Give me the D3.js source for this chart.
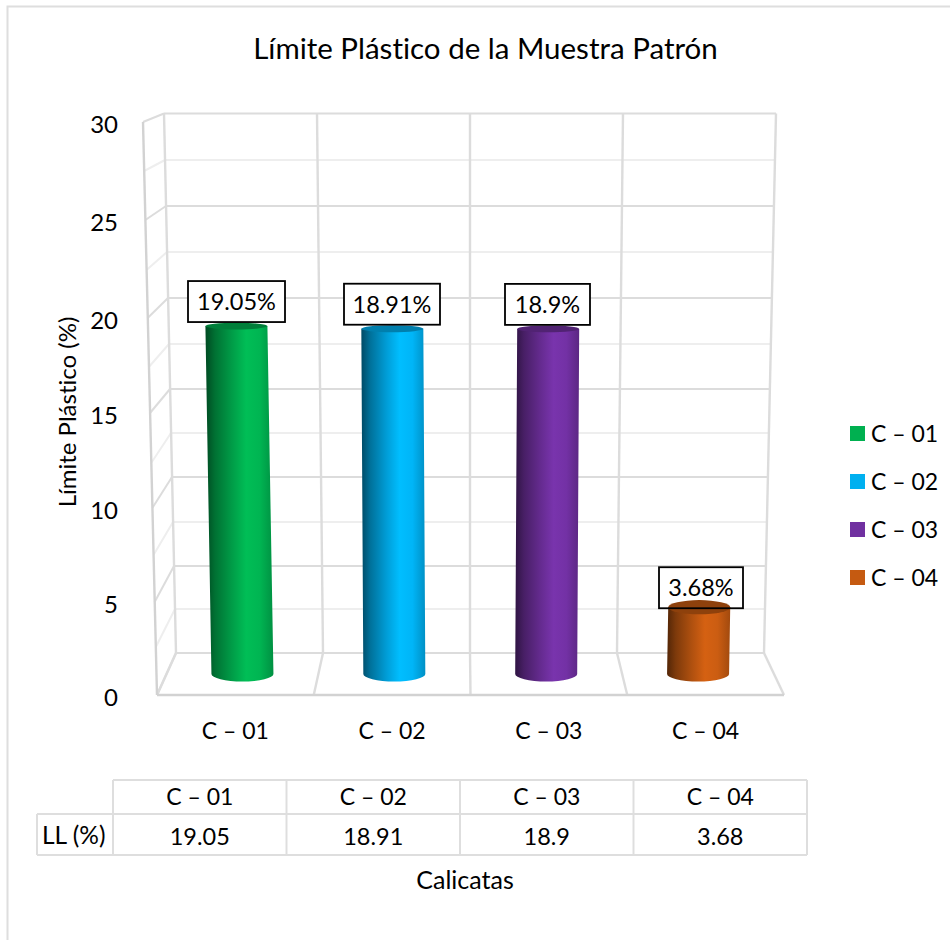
<!DOCTYPE html>
<html lang="es">
<head>
<meta charset="utf-8">
<title>Límite Plástico de la Muestra Patrón</title>
<script src="https://cdn.jsdelivr.net/npm/d3@7/dist/d3.min.js"></script>
<style>
html,body{margin:0;padding:0;background:#fff;overflow:hidden}
svg{display:block}
text{font-family:Lato,"Noto Sans",sans-serif;fill:#000;font-variant-ligatures:none}
</style>
</head>
<body>
<svg id="chart" width="950" height="940"></svg>
<script>
// Chart content
const chartTitle = "Límite Plástico de la Muestra Patrón";
const yTitle = "Límite Plástico (%)";
const xTitle = "Calicatas";
const rowLabel = "LL (%)";
const categories = ["C – 01", "C – 02", "C – 03", "C – 04"];
const values = [19.05, 18.91, 18.9, 3.68];
const valueLabels = ["19.05%", "18.91%", "18.9%", "3.68%"];
const tableLabels = ["19.05", "18.91", "18.9", "3.68"];
const barColors = ["#00b050", "#00b0f0", "#7030a0", "#c55a11"];

// Gridline levels of the box; the walls recede in perspective, so each plane has its own scale
const levels = [0, 2.5, 5, 7.5, 10, 12.5, 15, 17.5, 20, 22.5, 25, 27.5, 30];
const yBack = d3.scaleLinear().domain(levels)
  .range([653, 609, 566, 522, 477, 433, 389, 344, 298, 252, 206, 160, 113.5]);
const yFront = d3.scaleLinear().domain(levels)
  .range([695, 647, 602, 555, 508, 463, 413, 367, 318, 270, 220, 171, 122]);
const yMid = v => (yBack(v) + yFront(v)) / 2;

const xFrontEdge = d3.scaleLinear().domain([0, 30]).range([157, 143]);
const xBackLeft = d3.scaleLinear().domain([0, 30]).range([176, 164]);
const xBackRight = d3.scaleLinear().domain([0, 30]).range([764, 776]);

const xFloorFront = d3.scaleBand().domain(categories).range([157, 784]);
const xFloorMid = d3.scaleBand().domain(categories).range([166.5, 774]);
const xTable = d3.scaleBand().domain(categories).range([113, 807]);
const CENTER_X = 470;
const SPREAD = 0.00139;
const barX = (c, v) => {
  const base = xFloorMid(c) + xFloorMid.bandwidth() / 2;
  return base + (base - CENTER_X) * SPREAD * v;
};

const svg = d3.select("#chart");
const defs = svg.append("defs");

const GRID_MAJOR = "#dcdcdc", GRID_MINOR = "#eeeeee", EDGE = "#d2d2d2";
const isMajor = v => v % 5 === 0;

// Outer frame of the chart area, running off the page at right and bottom
svg.append("rect").attr("x", 7.5).attr("y", 6.5).attr("width", 1000).attr("height", 1000)
  .attr("fill", "none").attr("stroke", "#dedede").attr("stroke-width", 2);

// Back wall and side wall gridlines
const grid = svg.append("g").attr("fill", "none");
grid.selectAll(".back").data(levels).join("line").attr("class", "back")
  .attr("x1", v => xBackLeft(v)).attr("x2", v => xBackRight(v))
  .attr("y1", v => yBack(v)).attr("y2", v => yBack(v))
  .attr("stroke", v => isMajor(v) ? GRID_MAJOR : GRID_MINOR).attr("stroke-width", 2);
grid.selectAll(".side").data(levels).join("line").attr("class", "side")
  .attr("x1", v => xFrontEdge(v)).attr("x2", v => xBackLeft(v))
  .attr("y1", v => yFront(v)).attr("y2", v => yBack(v))
  .attr("stroke", v => isMajor(v) ? GRID_MAJOR : GRID_MINOR).attr("stroke-width", 2);

// Category dividers on the back wall and across the floor
const dividers = [0, 1, 2, 3, 4];
const backTopX = d3.scaleLinear().domain([0, 4]).range([164, 776]);
const backBottomX = d3.scaleLinear().domain([0, 4]).range([176, 764]);
const floorFrontX = d3.scaleLinear().domain([0, 4]).range([157, 784]);
grid.selectAll(".wall").data(dividers).join("line").attr("class", "wall")
  .attr("x1", i => backTopX(i)).attr("x2", i => backBottomX(i))
  .attr("y1", yBack(30)).attr("y2", yBack(0))
  .attr("stroke", GRID_MAJOR).attr("stroke-width", 2.4);
grid.selectAll(".floor").data(dividers).join("line").attr("class", "floor")
  .attr("x1", i => backBottomX(i)).attr("x2", i => floorFrontX(i))
  .attr("y1", yBack(0)).attr("y2", yFront(0))
  .attr("stroke", GRID_MAJOR).attr("stroke-width", 2.4);
grid.append("line").attr("x1", xFrontEdge(30)).attr("x2", xFrontEdge(0))
  .attr("y1", yFront(30)).attr("y2", yFront(0))
  .attr("stroke", EDGE).attr("stroke-width", 2.4);
grid.append("line").attr("x1", floorFrontX(0)).attr("x2", floorFrontX(4))
  .attr("y1", yFront(0)).attr("y2", yFront(0))
  .attr("stroke", EDGE).attr("stroke-width", 2.6);

// Cylinder shading: dark left edge, highlight right of centre
barColors.forEach((col, i) => {
  const g = defs.append("linearGradient").attr("id", "shade" + i)
    .attr("x1", 0).attr("x2", 1).attr("y1", 0).attr("y2", 0);
  const base = d3.color(col);
  [[0, 0.42], [0.14, 0.64], [0.4, 0.9], [0.6, 1.08], [0.8, 1.03], [1, 0.82]].forEach(([o, k]) => {
    g.append("stop").attr("offset", o)
      .attr("stop-color", d3.rgb(base.r * k, base.g * k, base.b * k).formatHex());
  });
});

// Label box backgrounds sit behind the cylinders; borders and text sit in front
const BOX_H = 41;
const boxWidths = [97, 96, 85, 84];
const boxCenters = [236.5, 392, 547.5, 701];
const boxTop = v => yMid(v) - 4 - BOX_H + (v < 10 ? 5 : 0);
const labelData = categories.map((c, i) => ({c, i, v: values[i], w: boxWidths[i], cx: boxCenters[i], t: valueLabels[i]}));

svg.append("g").selectAll("rect").data(labelData).join("rect")
  .attr("x", d => d.cx - d.w / 2).attr("y", d => boxTop(d.v))
  .attr("width", d => d.w).attr("height", BOX_H).attr("fill", "#fff");

// Cylinders
const R = 31, RY_BASE = 7.5;
const topRy = v => 3.2 + 4.8 * (1 - v / 20);
const bars = svg.append("g").selectAll("g").data(labelData).join("g");
bars.append("path")
  .attr("fill", d => `url(#shade${d.i})`)
  .attr("d", d => {
    const xT = barX(d.c, d.v), xB = barX(d.c, 0);
    const yT = yMid(d.v), yB = yMid(0);
    return `M${xT - R},${yT}L${xB - R},${yB}A${R},${RY_BASE} 0 0 0 ${xB + R},${yB}L${xT + R},${yT}Z`;
  });
bars.append("ellipse")
  .attr("cx", d => barX(d.c, d.v)).attr("cy", d => yMid(d.v))
  .attr("rx", R).attr("ry", d => topRy(d.v))
  .attr("fill", d => {
    const c = d3.color(barColors[d.i]);
    return d3.rgb(c.r * 0.72, c.g * 0.72, c.b * 0.72).formatHex();
  });

svg.append("g").selectAll("rect").data(labelData).join("rect")
  .attr("x", d => d.cx - d.w / 2).attr("y", d => boxTop(d.v))
  .attr("width", d => d.w).attr("height", BOX_H)
  .attr("fill", "none").attr("stroke", "#000").attr("stroke-width", 1.8);
svg.append("g").selectAll("text").data(labelData).join("text")
  .attr("x", d => d.cx).attr("y", d => boxTop(d.v) + BOX_H / 2 + 8.5)
  .attr("text-anchor", "middle").attr("font-size", 23.5).text(d => d.t);

// Title
svg.append("text").attr("x", 485.5).attr("y", 59).attr("text-anchor", "middle")
  .attr("font-size", 29.5).text(chartTitle);

// Value axis labels
const yAxis = d3.axisLeft(yFront).tickValues([0, 5, 10, 15, 20, 25, 30]).tickSize(0).tickPadding(0);
const yAxisG = svg.append("g").attr("transform", "translate(118,2.5)").call(yAxis);
yAxisG.select(".domain").remove();
yAxisG.selectAll("text").attr("font-size", 24).attr("fill", "#000")
  .style("font-family", 'Lato,"Noto Sans",sans-serif');

svg.append("text").attr("transform", "translate(76,412) rotate(-90)")
  .attr("text-anchor", "middle").attr("font-size", 24).text(yTitle);

// Category axis labels
const xAxis = d3.axisBottom(xFloorFront).tickSize(0).tickPadding(0);
const xAxisG = svg.append("g").attr("transform", "translate(0,723)").call(xAxis);
xAxisG.select(".domain").remove();
xAxisG.selectAll("text").attr("font-size", 23).attr("fill", "#000")
  .style("font-family", 'Lato,"Noto Sans",sans-serif');

// Data table under the plot
const tableG = svg.append("g");
const ROW_TOP = 780, ROW_MID = 814, ROW_BOTTOM = 855;
const lineStyle = s => s.attr("stroke", "#dedede").attr("stroke-width", 2);
tableG.selectAll(".col").data(xTable.domain().map(c => xTable(c)).concat(xTable.range()[1]))
  .join("line").attr("class", "col")
  .attr("x1", d => d).attr("x2", d => d).attr("y1", ROW_TOP).attr("y2", ROW_BOTTOM).call(lineStyle);
tableG.append("line").attr("x1", 113).attr("x2", 807).attr("y1", ROW_TOP).attr("y2", ROW_TOP).call(lineStyle);
tableG.append("line").attr("x1", 37).attr("x2", 807).attr("y1", ROW_MID).attr("y2", ROW_MID).call(lineStyle);
tableG.append("line").attr("x1", 37).attr("x2", 807).attr("y1", ROW_BOTTOM).attr("y2", ROW_BOTTOM).call(lineStyle);
tableG.append("line").attr("x1", 37).attr("x2", 37).attr("y1", ROW_MID).attr("y2", ROW_BOTTOM).call(lineStyle);

const cx = c => xTable(c) + xTable.bandwidth() / 2;
tableG.selectAll(".head").data(categories).join("text").attr("class", "head")
  .attr("x", cx).attr("y", 805).attr("text-anchor", "middle").attr("font-size", 23).text(d => d);
tableG.selectAll(".val").data(categories).join("text").attr("class", "val")
  .attr("x", cx).attr("y", 845).attr("text-anchor", "middle").attr("font-size", 23.5)
  .text((d, i) => tableLabels[i]);
tableG.append("text").attr("x", 42).attr("y", 844).attr("font-size", 24.5).text(rowLabel);

svg.append("text").attr("x", 465).attr("y", 889).attr("text-anchor", "middle")
  .attr("font-size", 25).text(xTitle);

// Legend
const legendY = d3.scalePoint().domain(categories).range([433.5, 577.5]);
const legend = svg.append("g").selectAll("g").data(categories).join("g")
  .attr("transform", d => `translate(850,${legendY(d)})`);
legend.append("rect").attr("x", 0).attr("y", -7.5).attr("width", 15).attr("height", 15)
  .attr("fill", (d, i) => barColors[i]);
legend.append("text").attr("x", 21).attr("y", 8).attr("font-size", 23).text(d => d);
</script>
</body>
</html>
